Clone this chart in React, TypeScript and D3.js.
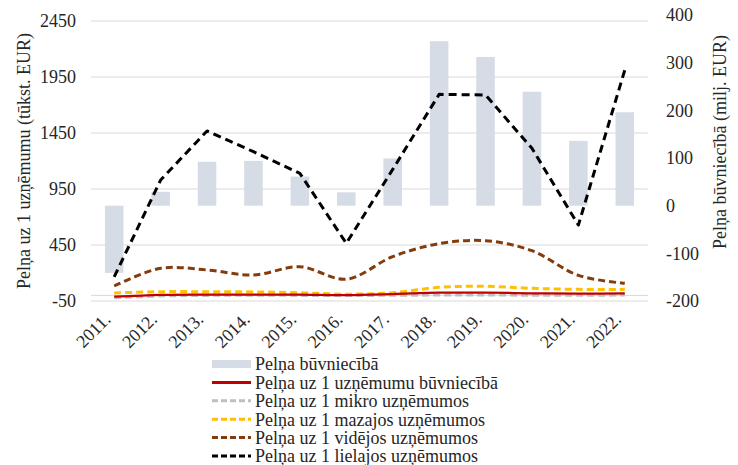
import React from "react";
import * as d3 from "d3";

const years = ["2011.", "2012.", "2013.", "2014.", "2015.", "2016.", "2017.", "2018.", "2019.", "2020.", "2021.", "2022."];
const profitConstruction = [-141, 29, 92, 94, 61, 28, 99, 345, 312, 239, 136, 196];
const perCompany = [-12, 4, 7, 8, 7, 3, 12, 24, 24, 19, 15, 18];
const perMicro = [-22, -5, 0, 1, 0, -1, 1, 3, 3, 2, 1, 3];
const perSmall = [22, 33, 33, 31, 24, 11, 24, 72, 81, 63, 54, 54];
const perMedium = [84, 242, 227, 182, 256, 145, 346, 462, 488, 399, 179, 108];
const perLarge = [165, 1030, 1468, 1283, 1090, 465, 1125, 1795, 1790, 1313, 628, 2012];
const leftTicks = [-50, 450, 950, 1450, 1950, 2450];
const rightTicks = [-200, -100, 0, 100, 200, 300, 400];

const legendLabels = [
  "Pelņa būvniecībā",
  "Pelņa uz 1 uzņēmumu būvniecībā",
  "Pelņa uz 1 mikro uzņēmumos",
  "Pelņa uz 1 mazajos uzņēmumos",
  "Pelņa uz 1 vidējos uzņēmumos",
  "Pelņa uz 1 lielajos uzņēmumos",
];

export default function App() {
  const W = 738, H = 465;
  const x0 = 91, x1 = 648;
  const x = d3.scaleBand<string>().domain(years).range([x0, x1]).paddingInner(0).paddingOuter(0);
  const yL = d3.scaleLinear().domain([-50, 2450]).range([301, 21]);
  const yR = d3.scaleLinear().domain([-200, 400]).range([301, 15]);
  const cx = (i: number) => (x(years[i]) as number) + x.bandwidth() / 2;
  const bw = x.bandwidth() * 0.4;
  const font = '"Liberation Serif", "Times New Roman", "DejaVu Serif", serif';
  const ts = { fontFamily: font, fontSize: "18px" };

  const smooth = d3.line<number>().x((_, i) => cx(i)).y((d) => yL(d)).curve(d3.curveCatmullRom.alpha(0.5));
  const straight = d3.line<number>().x((_, i) => cx(i)).y((d) => yL(d));

  const series = [
    { data: perMicro, color: "#bfbfbf", dash: "7,4", w: 3, gen: smooth },
    { data: perSmall, color: "#ffc000", dash: "7,4", w: 3, gen: smooth },
    { data: perCompany, color: "#c00000", dash: null, w: 2.25, gen: smooth },
    { data: perMedium, color: "#843c0c", dash: "7,4", w: 3, gen: smooth },
    { data: perLarge, color: "#000000", dash: "8,5", w: 3, gen: straight },
  ];

  const legendItems = [
    { type: "bar", color: "#d6dce5", dash: null },
    { type: "line", color: "#c00000", dash: null },
    { type: "line", color: "#bfbfbf", dash: "6,3" },
    { type: "line", color: "#ffc000", dash: "6,3" },
    { type: "line", color: "#843c0c", dash: "6,3" },
    { type: "line", color: "#000000", dash: "6,3" },
  ];

  return (
    <svg width={W} height={H} style={{ position: "absolute", left: 0, top: 0, background: "#fff" }}>
      {leftTicks.map((t) => (
        <line key={"g" + t} x1={x0} x2={x1} y1={yL(t)} y2={yL(t)} stroke="#d9d9d9" strokeWidth={1} />
      ))}
      <line x1={x0} x2={x1} y1={yL(0)} y2={yL(0)} stroke="#d9d9d9" strokeWidth={1} />
      {profitConstruction.map((v, i) => (
        <rect
          key={"b" + i}
          x={cx(i) - bw / 2}
          width={bw}
          y={Math.min(yR(v), yR(0))}
          height={Math.abs(yR(v) - yR(0))}
          fill="#d6dce5"
        />
      ))}
      {series.map((s, k) => (
        <path
          key={"s" + k}
          d={s.gen(s.data) || ""}
          fill="none"
          stroke={s.color}
          strokeWidth={s.w}
          strokeDasharray={s.dash || undefined}
          strokeLinejoin="round"
        />
      ))}
      {leftTicks.map((t) => (
        <text key={"lt" + t} x={76} y={yL(t)} dy="0.35em" textAnchor="end" style={ts} fill="#262626">
          {t}
        </text>
      ))}
      {rightTicks.map((t) => (
        <text key={"rt" + t} x={666} y={yR(t)} dy="0.35em" textAnchor="start" style={ts} fill="#262626">
          {t}
        </text>
      ))}
      {years.map((yr, i) => (
        <text
          key={"x" + i}
          transform={`translate(${cx(i) - 7},${316}) rotate(-45)`}
          textAnchor="end"
          dy="0.35em"
          style={ts}
          fill="#262626"
        >
          {yr}
        </text>
      ))}
      <text transform="translate(24,161) rotate(-90)" textAnchor="middle" dy="0.35em" style={ts} fill="#262626">
        Pelņa uz 1 uzņēmumu (tūkst. EUR)
      </text>
      <text transform="translate(720,142) rotate(-90)" textAnchor="middle" dy="0.35em" style={ts} fill="#262626">
        Pelņa būvniecībā (milj. EUR)
      </text>
      {legendItems.map((it, i) => {
        const yy = 364 + i * 18.4;
        return (
          <g key={"lg" + i}>
            {it.type === "bar" ? (
              <rect x={212} y={yy - 4} width={39} height={8} fill={it.color} />
            ) : (
              <line x1={212} x2={251} y1={yy} y2={yy} stroke={it.color} strokeWidth={3} strokeDasharray={it.dash || undefined} />
            )}
            <text x={255} y={yy} dy="0.35em" style={ts} fill="#262626">
              {legendLabels[i]}
            </text>
          </g>
        );
      })}
    </svg>
  );
}
